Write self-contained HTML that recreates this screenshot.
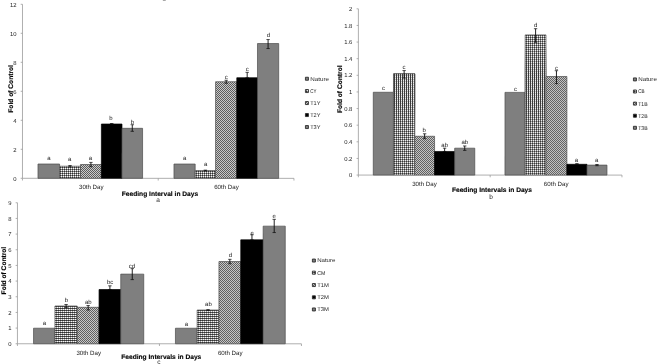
<!DOCTYPE html>
<html lang="en"><head><meta charset="utf-8"><title>Fold of Control charts</title>
<style>
html,body{margin:0;padding:0;background:#fff}
svg{display:block;font-family:"Liberation Sans",sans-serif;text-rendering:geometricPrecision}
</style></head><body>
<svg width="658" height="364" viewBox="0 0 658 364">
<defs>
<pattern id="grid" width="2" height="2" patternUnits="userSpaceOnUse"><rect width="2" height="2" fill="#2c2c2c"/><rect x="1" y="0" width="1" height="1" fill="#fff"/><rect x="0" y="0" width="1" height="1" fill="#848484"/><rect x="1" y="1" width="1" height="1" fill="#848484"/></pattern>
<pattern id="gridc" width="2" height="2" patternUnits="userSpaceOnUse"><rect width="2" height="2" fill="#2a2a2a"/><rect x="1" y="1" width="1" height="1" fill="#fff"/><rect x="0" y="1" width="1" height="1" fill="#9a9a9a"/><rect x="1" y="0" width="1" height="1" fill="#555"/></pattern>
<pattern id="gridw" width="2" height="2" patternUnits="userSpaceOnUse"><rect width="2" height="2" fill="#383838"/><rect x="1" y="0" width="1" height="1" fill="#f4f4f4"/><rect x="1" y="1" width="1" height="1" fill="#bcbcbc"/></pattern>
<linearGradient id="wg" gradientUnits="userSpaceOnUse" x1="0" y1="30" x2="0" y2="175"><stop offset="0" stop-color="#000"/><stop offset="0.1" stop-color="#000"/><stop offset="0.3" stop-color="#fff"/><stop offset="0.5" stop-color="#fff"/><stop offset="0.72" stop-color="#000"/><stop offset="1" stop-color="#000"/></linearGradient>
<mask id="wm" maskUnits="userSpaceOnUse" x="340" y="0" width="318" height="200"><rect x="340" y="0" width="318" height="200" fill="url(#wg)"/></mask>
<pattern id="chk" width="2" height="2" patternUnits="userSpaceOnUse"><rect width="2" height="2" fill="#d0d0d0"/><rect width="1" height="1" fill="#565656"/><rect x="1" y="1" width="1" height="1" fill="#565656"/></pattern>
</defs>
<rect width="658" height="364" fill="#fff"/>
<ellipse cx="164.3" cy="0.2" rx="1.6" ry="0.9" fill="#a8a8a8"/>
<g transform="rotate(0.01)">
<path d="M22.5 4.3V178.3H294" fill="none" stroke="#9a9a9a" stroke-width="0.8"/>
<path d="M20.7 178.3H22.5" stroke="#9a9a9a" stroke-width="0.8"/>
<text x="16.5" y="181.25" font-size="5.9" text-anchor="end" fill="#1c1c1c">0</text>
<path d="M20.7 149.3H22.5" stroke="#9a9a9a" stroke-width="0.8"/>
<text x="16.5" y="152.25" font-size="5.9" text-anchor="end" fill="#1c1c1c">2</text>
<path d="M20.7 120.3H22.5" stroke="#9a9a9a" stroke-width="0.8"/>
<text x="16.5" y="123.25" font-size="5.9" text-anchor="end" fill="#1c1c1c">4</text>
<path d="M20.7 91.3H22.5" stroke="#9a9a9a" stroke-width="0.8"/>
<text x="16.5" y="94.25" font-size="5.9" text-anchor="end" fill="#1c1c1c">6</text>
<path d="M20.7 62.3H22.5" stroke="#9a9a9a" stroke-width="0.8"/>
<text x="16.5" y="65.25" font-size="5.9" text-anchor="end" fill="#1c1c1c">8</text>
<path d="M20.7 33.3H22.5" stroke="#9a9a9a" stroke-width="0.8"/>
<text x="16.5" y="36.25" font-size="5.9" text-anchor="end" fill="#1c1c1c">10</text>
<path d="M20.7 4.3H22.5" stroke="#9a9a9a" stroke-width="0.8"/>
<text x="16.5" y="7.25" font-size="5.9" text-anchor="end" fill="#1c1c1c">12</text>
<path d="M22.5 178.3v2.2" stroke="#9a9a9a" stroke-width="0.8"/>
<path d="M158.25 178.3v2.2" stroke="#9a9a9a" stroke-width="0.8"/>
<path d="M294 178.3v2.2" stroke="#9a9a9a" stroke-width="0.8"/>
<rect x="38" y="164" width="21.6" height="14.3" fill="#7f7f7f" stroke="#4c4c4c" stroke-width="0.7"/>
<text x="49" y="159.6" font-size="6" text-anchor="middle" fill="#1c1c1c">a</text>
<rect x="59.6" y="166.2" width="20.9" height="12.1" fill="url(#grid)" stroke="#4c4c4c" stroke-width="0.7"/>
<path d="M70.05 165.5V166.9" stroke="#0a0a0a" stroke-width="0.9" fill="none"/><path d="M68.35 165.5h3.4M68.35 166.9h3.4" stroke="#0a0a0a" stroke-width="0.7" fill="none"/>
<text x="69.8" y="161.3" font-size="6" text-anchor="middle" fill="#1c1c1c">a</text>
<rect x="80.5" y="164.5" width="20.9" height="13.8" fill="url(#chk)" stroke="#4c4c4c" stroke-width="0.7"/>
<path d="M90.95 162.4V166.7" stroke="#0a0a0a" stroke-width="0.9" fill="none"/><path d="M89.25 162.4h3.4M89.25 166.7h3.4" stroke="#0a0a0a" stroke-width="0.7" fill="none"/>
<text x="90.5" y="160" font-size="6" text-anchor="middle" fill="#1c1c1c">a</text>
<rect x="101.4" y="124" width="20.6" height="54.3" fill="#000" stroke="#000" stroke-width="0.7"/>
<path d="M111.7 123.6V124" stroke="#0a0a0a" stroke-width="0.9" fill="none"/><path d="M110 123.6h3.4M110 124h3.4" stroke="#0a0a0a" stroke-width="0.7" fill="none"/>
<text x="111" y="119.7" font-size="6" text-anchor="middle" fill="#1c1c1c">b</text>
<rect x="122" y="128.3" width="20.6" height="50" fill="#7f7f7f" stroke="#4c4c4c" stroke-width="0.7"/>
<path d="M132.3 124.7V131.3" stroke="#0a0a0a" stroke-width="0.9" fill="none"/><path d="M130.6 124.7h3.4M130.6 131.3h3.4" stroke="#0a0a0a" stroke-width="0.7" fill="none"/>
<text x="132.5" y="124" font-size="6" text-anchor="middle" fill="#1c1c1c">b</text>
<rect x="174" y="164" width="21.2" height="14.3" fill="#7f7f7f" stroke="#4c4c4c" stroke-width="0.7"/>
<text x="184.8" y="159.6" font-size="6" text-anchor="middle" fill="#1c1c1c">a</text>
<rect x="195.2" y="170.5" width="20.4" height="7.8" fill="url(#grid)" stroke="#4c4c4c" stroke-width="0.7"/>
<path d="M205.4 170.1V170.9" stroke="#0a0a0a" stroke-width="0.9" fill="none"/><path d="M203.7 170.1h3.4M203.7 170.9h3.4" stroke="#0a0a0a" stroke-width="0.7" fill="none"/>
<text x="205.8" y="166" font-size="6" text-anchor="middle" fill="#1c1c1c">a</text>
<rect x="215.6" y="81.7" width="21.2" height="96.6" fill="url(#chk)" stroke="#4c4c4c" stroke-width="0.7"/>
<path d="M226.2 80.2V83.2" stroke="#0a0a0a" stroke-width="0.9" fill="none"/><path d="M224.5 80.2h3.4M224.5 83.2h3.4" stroke="#0a0a0a" stroke-width="0.7" fill="none"/>
<text x="226.3" y="79.3" font-size="6" text-anchor="middle" fill="#1c1c1c">c</text>
<rect x="236.8" y="77.7" width="20.8" height="100.6" fill="#000" stroke="#000" stroke-width="0.7"/>
<path d="M247.2 72.3V77.7" stroke="#0a0a0a" stroke-width="0.9" fill="none"/><path d="M245.5 72.3h3.4M245.5 77.7h3.4" stroke="#0a0a0a" stroke-width="0.7" fill="none"/>
<text x="247.3" y="70.8" font-size="6" text-anchor="middle" fill="#1c1c1c">c</text>
<rect x="257.5" y="43.5" width="21.2" height="134.8" fill="#7f7f7f" stroke="#4c4c4c" stroke-width="0.7"/>
<path d="M268.1 39.5V48.5" stroke="#0a0a0a" stroke-width="0.9" fill="none"/><path d="M266.4 39.5h3.4M266.4 48.5h3.4" stroke="#0a0a0a" stroke-width="0.7" fill="none"/>
<text x="268.4" y="37" font-size="6" text-anchor="middle" fill="#1c1c1c">d</text>
<rect x="305.45" y="77.2" width="3" height="3" fill="#7f7f7f" stroke="#2c2c2c" stroke-width="0.9"/>
<text x="310.2" y="80.65" font-size="5.6" textLength="18.8" lengthAdjust="spacingAndGlyphs" fill="#2a2a2a">Nature</text>
<rect x="305.45" y="89.5" width="3" height="3" fill="url(#grid)" stroke="#2c2c2c" stroke-width="0.9"/>
<text x="310.2" y="92.95" font-size="5.6" textLength="6.2" lengthAdjust="spacingAndGlyphs" fill="#2a2a2a">CY</text>
<rect x="305.45" y="101.5" width="3" height="3" fill="url(#chk)" stroke="#2c2c2c" stroke-width="0.9"/>
<text x="310.2" y="104.95" font-size="5.6" textLength="10.3" lengthAdjust="spacingAndGlyphs" fill="#2a2a2a">T1Y</text>
<rect x="305.45" y="113.5" width="3" height="3" fill="#000" stroke="#2c2c2c" stroke-width="0.9"/>
<text x="310.2" y="116.95" font-size="5.6" textLength="10.3" lengthAdjust="spacingAndGlyphs" fill="#2a2a2a">T2Y</text>
<rect x="305.45" y="125.5" width="3" height="3" fill="#7f7f7f" stroke="#2c2c2c" stroke-width="0.9"/>
<text x="310.2" y="128.95" font-size="5.6" textLength="10.3" lengthAdjust="spacingAndGlyphs" fill="#2a2a2a">T3Y</text>
<text transform="translate(13.4 88.9) rotate(-90)" font-size="6.65" font-weight="bold" text-anchor="middle" fill="#000" stroke="#000" stroke-width="0.15">Fold of Control</text>
<text x="91.3" y="189.2" font-size="6.15" text-anchor="middle" fill="#1c1c1c">30th Day</text>
<text x="226.5" y="189.2" font-size="6.15" text-anchor="middle" fill="#1c1c1c">60th Day</text>
<text x="160" y="196.1" font-size="6.65" font-weight="bold" text-anchor="middle" fill="#000" stroke="#000" stroke-width="0.12">Feeding Interval in Days</text>
<text x="158.2" y="201.7" font-size="6.5" text-anchor="middle" fill="#1c1c1c">a</text>
<path d="M358.4 8.75V175H622" fill="none" stroke="#9a9a9a" stroke-width="0.8"/>
<path d="M356.59999999999997 175H358.4" stroke="#9a9a9a" stroke-width="0.8"/>
<text x="352.4" y="177.2" font-size="5.9" text-anchor="end" fill="#1c1c1c">0</text>
<path d="M356.59999999999997 158.38H358.4" stroke="#9a9a9a" stroke-width="0.8"/>
<text x="352.4" y="160.57" font-size="5.9" text-anchor="end" fill="#1c1c1c">0.2</text>
<path d="M356.59999999999997 141.75H358.4" stroke="#9a9a9a" stroke-width="0.8"/>
<text x="352.4" y="143.95" font-size="5.9" text-anchor="end" fill="#1c1c1c">0.4</text>
<path d="M356.59999999999997 125.12H358.4" stroke="#9a9a9a" stroke-width="0.8"/>
<text x="352.4" y="127.33" font-size="5.9" text-anchor="end" fill="#1c1c1c">0.6</text>
<path d="M356.59999999999997 108.5H358.4" stroke="#9a9a9a" stroke-width="0.8"/>
<text x="352.4" y="110.7" font-size="5.9" text-anchor="end" fill="#1c1c1c">0.8</text>
<path d="M356.59999999999997 91.88H358.4" stroke="#9a9a9a" stroke-width="0.8"/>
<text x="352.4" y="94.08" font-size="5.9" text-anchor="end" fill="#1c1c1c">1</text>
<path d="M356.59999999999997 75.25H358.4" stroke="#9a9a9a" stroke-width="0.8"/>
<text x="352.4" y="77.45" font-size="5.9" text-anchor="end" fill="#1c1c1c">1.2</text>
<path d="M356.59999999999997 58.62H358.4" stroke="#9a9a9a" stroke-width="0.8"/>
<text x="352.4" y="60.82" font-size="5.9" text-anchor="end" fill="#1c1c1c">1.4</text>
<path d="M356.59999999999997 42H358.4" stroke="#9a9a9a" stroke-width="0.8"/>
<text x="352.4" y="44.2" font-size="5.9" text-anchor="end" fill="#1c1c1c">1.6</text>
<path d="M356.59999999999997 25.38H358.4" stroke="#9a9a9a" stroke-width="0.8"/>
<text x="352.4" y="27.57" font-size="5.9" text-anchor="end" fill="#1c1c1c">1.8</text>
<path d="M356.59999999999997 8.75H358.4" stroke="#9a9a9a" stroke-width="0.8"/>
<text x="352.4" y="10.95" font-size="5.9" text-anchor="end" fill="#1c1c1c">2</text>
<path d="M358.4 175v2.2" stroke="#9a9a9a" stroke-width="0.8"/>
<path d="M490.2 175v2.2" stroke="#9a9a9a" stroke-width="0.8"/>
<path d="M622 175v2.2" stroke="#9a9a9a" stroke-width="0.8"/>
<rect x="373.3" y="92.2" width="20.2" height="82.8" fill="#7f7f7f" stroke="#4c4c4c" stroke-width="0.7"/>
<text x="383.4" y="89.6" font-size="6" text-anchor="middle" fill="#1c1c1c">c</text>
<rect x="393.5" y="73.8" width="21.3" height="101.2" fill="url(#grid)" stroke="#4c4c4c" stroke-width="0.7"/>
<rect x="393.5" y="73.8" width="21.3" height="101.2" fill="url(#gridw)" mask="url(#wm)" stroke="#4c4c4c" stroke-width="0.7"/>
<path d="M404.15 70.5V78" stroke="#0a0a0a" stroke-width="0.9" fill="none"/><path d="M402.45 70.5h3.4M402.45 78h3.4" stroke="#0a0a0a" stroke-width="0.7" fill="none"/>
<text x="404" y="69.3" font-size="6" text-anchor="middle" fill="#1c1c1c">c</text>
<rect x="414.7" y="136.2" width="19.9" height="38.8" fill="url(#chk)" stroke="#4c4c4c" stroke-width="0.7"/>
<path d="M424.65 133.7V138.6" stroke="#0a0a0a" stroke-width="0.9" fill="none"/><path d="M422.95 133.7h3.4M422.95 138.6h3.4" stroke="#0a0a0a" stroke-width="0.7" fill="none"/>
<text x="424.1" y="131.9" font-size="6" text-anchor="middle" fill="#1c1c1c">b</text>
<rect x="434.6" y="151.4" width="20.1" height="23.6" fill="#000" stroke="#000" stroke-width="0.7"/>
<path d="M444.65 148.1V151.4" stroke="#0a0a0a" stroke-width="0.9" fill="none"/><path d="M442.95 148.1h3.4M442.95 151.4h3.4" stroke="#0a0a0a" stroke-width="0.7" fill="none"/>
<text x="444.7" y="147.2" font-size="6" text-anchor="middle" fill="#1c1c1c">ab</text>
<rect x="454.7" y="148.1" width="20.1" height="26.9" fill="#7f7f7f" stroke="#4c4c4c" stroke-width="0.7"/>
<path d="M464.75 145.9V150.3" stroke="#0a0a0a" stroke-width="0.9" fill="none"/><path d="M463.05 145.9h3.4M463.05 150.3h3.4" stroke="#0a0a0a" stroke-width="0.7" fill="none"/>
<text x="464.8" y="144" font-size="6" text-anchor="middle" fill="#1c1c1c">ab</text>
<rect x="505" y="92.3" width="20.2" height="82.7" fill="#7f7f7f" stroke="#4c4c4c" stroke-width="0.7"/>
<text x="515.6" y="90.5" font-size="6" text-anchor="middle" fill="#1c1c1c">c</text>
<rect x="525.2" y="34.8" width="20.8" height="140.2" fill="url(#grid)" stroke="#4c4c4c" stroke-width="0.7"/>
<rect x="525.2" y="34.8" width="20.8" height="140.2" fill="url(#gridw)" mask="url(#wm)" stroke="#4c4c4c" stroke-width="0.7"/>
<path d="M535.6 28.6V42.2" stroke="#0a0a0a" stroke-width="0.9" fill="none"/><path d="M533.9 28.6h3.4M533.9 42.2h3.4" stroke="#0a0a0a" stroke-width="0.7" fill="none"/>
<text x="535.8" y="26.8" font-size="6" text-anchor="middle" fill="#1c1c1c">d</text>
<rect x="546" y="76.4" width="20.9" height="98.6" fill="url(#chk)" stroke="#4c4c4c" stroke-width="0.7"/>
<path d="M556.45 70.6V83.5" stroke="#0a0a0a" stroke-width="0.9" fill="none"/><path d="M554.75 70.6h3.4M554.75 83.5h3.4" stroke="#0a0a0a" stroke-width="0.7" fill="none"/>
<text x="556.6" y="70.3" font-size="6" text-anchor="middle" fill="#1c1c1c">c</text>
<rect x="566.9" y="164.2" width="20.1" height="10.8" fill="#000" stroke="#000" stroke-width="0.7"/>
<path d="M576.95 163.6V164.2" stroke="#0a0a0a" stroke-width="0.9" fill="none"/><path d="M575.25 163.6h3.4M575.25 164.2h3.4" stroke="#0a0a0a" stroke-width="0.7" fill="none"/>
<text x="576.5" y="161.6" font-size="6" text-anchor="middle" fill="#1c1c1c">a</text>
<rect x="587" y="165" width="20" height="10" fill="#7f7f7f" stroke="#4c4c4c" stroke-width="0.7"/>
<path d="M597 164.4V165.6" stroke="#0a0a0a" stroke-width="0.9" fill="none"/><path d="M595.3 164.4h3.4M595.3 165.6h3.4" stroke="#0a0a0a" stroke-width="0.7" fill="none"/>
<text x="596.8" y="162" font-size="6" text-anchor="middle" fill="#1c1c1c">a</text>
<rect x="633.45" y="77.8" width="3" height="3" fill="#7f7f7f" stroke="#2c2c2c" stroke-width="0.9"/>
<text x="638.2" y="81.25" font-size="5.6" textLength="18.7" lengthAdjust="spacingAndGlyphs" fill="#2a2a2a">Nature</text>
<rect x="633.45" y="89.9" width="3" height="3" fill="url(#grid)" stroke="#2c2c2c" stroke-width="0.9"/>
<text x="638.2" y="93.35" font-size="5.6" textLength="6.4" lengthAdjust="spacingAndGlyphs" fill="#2a2a2a">CB</text>
<rect x="633.45" y="102" width="3" height="3" fill="url(#chk)" stroke="#2c2c2c" stroke-width="0.9"/>
<text x="638.2" y="105.45" font-size="5.6" textLength="9.4" lengthAdjust="spacingAndGlyphs" fill="#2a2a2a">T1B</text>
<rect x="633.45" y="114.1" width="3" height="3" fill="#000" stroke="#2c2c2c" stroke-width="0.9"/>
<text x="638.2" y="117.55" font-size="5.6" textLength="9.4" lengthAdjust="spacingAndGlyphs" fill="#2a2a2a">T2B</text>
<rect x="633.45" y="126.2" width="3" height="3" fill="#7f7f7f" stroke="#2c2c2c" stroke-width="0.9"/>
<text x="638.2" y="129.65" font-size="5.6" textLength="9.4" lengthAdjust="spacingAndGlyphs" fill="#2a2a2a">T3B</text>
<text transform="translate(342.2 89.2) rotate(-90)" font-size="6.65" font-weight="bold" text-anchor="middle" fill="#000" stroke="#000" stroke-width="0.15">Fold of Control</text>
<text x="424.5" y="185.9" font-size="6.15" text-anchor="middle" fill="#1c1c1c">30th Day</text>
<text x="556.2" y="185.9" font-size="6.15" text-anchor="middle" fill="#1c1c1c">60th Day</text>
<text x="492" y="191.8" font-size="6.65" font-weight="bold" text-anchor="middle" fill="#000" stroke="#000" stroke-width="0.12">Feeding Intervals in Days</text>
<text x="491" y="198.6" font-size="6.5" text-anchor="middle" fill="#1c1c1c">b</text>
<path d="M17.5 202.75V343.75H301.5" fill="none" stroke="#9a9a9a" stroke-width="0.8"/>
<path d="M15.7 343.75H17.5" stroke="#9a9a9a" stroke-width="0.8"/>
<text x="11.5" y="345.95" font-size="5.9" text-anchor="end" fill="#1c1c1c">0</text>
<path d="M15.7 328.08H17.5" stroke="#9a9a9a" stroke-width="0.8"/>
<text x="11.5" y="330.28" font-size="5.9" text-anchor="end" fill="#1c1c1c">1</text>
<path d="M15.7 312.42H17.5" stroke="#9a9a9a" stroke-width="0.8"/>
<text x="11.5" y="314.62" font-size="5.9" text-anchor="end" fill="#1c1c1c">2</text>
<path d="M15.7 296.75H17.5" stroke="#9a9a9a" stroke-width="0.8"/>
<text x="11.5" y="298.95" font-size="5.9" text-anchor="end" fill="#1c1c1c">3</text>
<path d="M15.7 281.08H17.5" stroke="#9a9a9a" stroke-width="0.8"/>
<text x="11.5" y="283.28" font-size="5.9" text-anchor="end" fill="#1c1c1c">4</text>
<path d="M15.7 265.42H17.5" stroke="#9a9a9a" stroke-width="0.8"/>
<text x="11.5" y="267.62" font-size="5.9" text-anchor="end" fill="#1c1c1c">5</text>
<path d="M15.7 249.75H17.5" stroke="#9a9a9a" stroke-width="0.8"/>
<text x="11.5" y="251.95" font-size="5.9" text-anchor="end" fill="#1c1c1c">6</text>
<path d="M15.7 234.08H17.5" stroke="#9a9a9a" stroke-width="0.8"/>
<text x="11.5" y="236.28" font-size="5.9" text-anchor="end" fill="#1c1c1c">7</text>
<path d="M15.7 218.42H17.5" stroke="#9a9a9a" stroke-width="0.8"/>
<text x="11.5" y="220.62" font-size="5.9" text-anchor="end" fill="#1c1c1c">8</text>
<path d="M15.7 202.75H17.5" stroke="#9a9a9a" stroke-width="0.8"/>
<text x="11.5" y="204.95" font-size="5.9" text-anchor="end" fill="#1c1c1c">9</text>
<path d="M17.5 343.75v2.2" stroke="#9a9a9a" stroke-width="0.8"/>
<path d="M159.5 343.75v2.2" stroke="#9a9a9a" stroke-width="0.8"/>
<path d="M301.5 343.75v2.2" stroke="#9a9a9a" stroke-width="0.8"/>
<rect x="33.6" y="328.2" width="21.4" height="15.55" fill="#7f7f7f" stroke="#4c4c4c" stroke-width="0.7"/>
<text x="44.5" y="325.3" font-size="6" text-anchor="middle" fill="#1c1c1c">a</text>
<rect x="55" y="306" width="22.3" height="37.75" fill="url(#gridc)" stroke="#4c4c4c" stroke-width="0.7"/>
<path d="M66.15 304.5V307.5" stroke="#0a0a0a" stroke-width="0.9" fill="none"/><path d="M64.45 304.5h3.4M64.45 307.5h3.4" stroke="#0a0a0a" stroke-width="0.7" fill="none"/>
<text x="66.5" y="302.3" font-size="6" text-anchor="middle" fill="#1c1c1c">b</text>
<rect x="77.3" y="307.3" width="21.8" height="36.45" fill="url(#chk)" stroke="#4c4c4c" stroke-width="0.7"/>
<path d="M88.2 305.5V310" stroke="#0a0a0a" stroke-width="0.9" fill="none"/><path d="M86.5 305.5h3.4M86.5 310h3.4" stroke="#0a0a0a" stroke-width="0.7" fill="none"/>
<text x="88.4" y="303.8" font-size="6" text-anchor="middle" fill="#1c1c1c">ab</text>
<rect x="99.1" y="289.5" width="21.7" height="54.25" fill="#000" stroke="#000" stroke-width="0.7"/>
<path d="M109.95 285.8V289.5" stroke="#0a0a0a" stroke-width="0.9" fill="none"/><path d="M108.25 285.8h3.4M108.25 289.5h3.4" stroke="#0a0a0a" stroke-width="0.7" fill="none"/>
<text x="110.2" y="284" font-size="6" text-anchor="middle" fill="#1c1c1c">bc</text>
<rect x="120.8" y="274.1" width="23" height="69.65" fill="#7f7f7f" stroke="#4c4c4c" stroke-width="0.7"/>
<path d="M132.3 268.6V279.6" stroke="#0a0a0a" stroke-width="0.9" fill="none"/><path d="M130.6 268.6h3.4M130.6 279.6h3.4" stroke="#0a0a0a" stroke-width="0.7" fill="none"/>
<text x="132" y="268.2" font-size="6" text-anchor="middle" fill="#1c1c1c">cd</text>
<rect x="175.5" y="328.2" width="21.7" height="15.55" fill="#7f7f7f" stroke="#4c4c4c" stroke-width="0.7"/>
<text x="186.5" y="325.9" font-size="6" text-anchor="middle" fill="#1c1c1c">a</text>
<rect x="197.2" y="310" width="21.8" height="33.75" fill="url(#gridc)" stroke="#4c4c4c" stroke-width="0.7"/>
<path d="M208.1 309.6V310.4" stroke="#0a0a0a" stroke-width="0.9" fill="none"/><path d="M206.4 309.6h3.4M206.4 310.4h3.4" stroke="#0a0a0a" stroke-width="0.7" fill="none"/>
<text x="208.5" y="306.2" font-size="6" text-anchor="middle" fill="#1c1c1c">ab</text>
<rect x="219" y="261.5" width="21.8" height="82.25" fill="url(#chk)" stroke="#4c4c4c" stroke-width="0.7"/>
<path d="M229.9 259.3V263.7" stroke="#0a0a0a" stroke-width="0.9" fill="none"/><path d="M228.2 259.3h3.4M228.2 263.7h3.4" stroke="#0a0a0a" stroke-width="0.7" fill="none"/>
<text x="230.4" y="257.1" font-size="6" text-anchor="middle" fill="#1c1c1c">d</text>
<rect x="240.8" y="239.8" width="22.4" height="103.95" fill="#000" stroke="#000" stroke-width="0.7"/>
<path d="M252 234.7V239.8" stroke="#0a0a0a" stroke-width="0.9" fill="none"/><path d="M250.3 234.7h3.4M250.3 239.8h3.4" stroke="#0a0a0a" stroke-width="0.7" fill="none"/>
<text x="252.2" y="234.7" font-size="6" text-anchor="middle" fill="#1c1c1c">e</text>
<rect x="263.2" y="226.1" width="22.1" height="117.65" fill="#7f7f7f" stroke="#4c4c4c" stroke-width="0.7"/>
<path d="M274.25 219.3V232.5" stroke="#0a0a0a" stroke-width="0.9" fill="none"/><path d="M272.55 219.3h3.4M272.55 232.5h3.4" stroke="#0a0a0a" stroke-width="0.7" fill="none"/>
<text x="274.2" y="218.2" font-size="6" text-anchor="middle" fill="#1c1c1c">e</text>
<rect x="312.45" y="259" width="3" height="3" fill="#7f7f7f" stroke="#2c2c2c" stroke-width="0.9"/>
<text x="317.2" y="262.45" font-size="5.6" textLength="18.3" lengthAdjust="spacingAndGlyphs" fill="#2a2a2a">Nature</text>
<rect x="312.45" y="271.1" width="3" height="3" fill="url(#gridc)" stroke="#2c2c2c" stroke-width="0.9"/>
<text x="317.2" y="274.55" font-size="5.6" textLength="8.1" lengthAdjust="spacingAndGlyphs" fill="#2a2a2a">CM</text>
<rect x="312.45" y="283.5" width="3" height="3" fill="url(#chk)" stroke="#2c2c2c" stroke-width="0.9"/>
<text x="317.2" y="286.95" font-size="5.6" textLength="11.7" lengthAdjust="spacingAndGlyphs" fill="#2a2a2a">T1M</text>
<rect x="312.45" y="295.8" width="3" height="3" fill="#000" stroke="#2c2c2c" stroke-width="0.9"/>
<text x="317.2" y="299.25" font-size="5.6" textLength="11.7" lengthAdjust="spacingAndGlyphs" fill="#2a2a2a">T2M</text>
<rect x="312.45" y="307.9" width="3" height="3" fill="#7f7f7f" stroke="#2c2c2c" stroke-width="0.9"/>
<text x="317.2" y="311.35" font-size="5.6" textLength="11.7" lengthAdjust="spacingAndGlyphs" fill="#2a2a2a">T3M</text>
<text transform="translate(5.9 270.6) rotate(-90)" font-size="6.65" font-weight="bold" text-anchor="middle" fill="#000" stroke="#000" stroke-width="0.15">Fold of Control</text>
<text x="88.8" y="355.2" font-size="6.15" text-anchor="middle" fill="#1c1c1c">30th Day</text>
<text x="230.3" y="355.2" font-size="6.15" text-anchor="middle" fill="#1c1c1c">60th Day</text>
<text x="161.3" y="358.9" font-size="6.65" font-weight="bold" text-anchor="middle" fill="#000" stroke="#000" stroke-width="0.12">Feeding Intervals in Days</text>
<text x="159" y="364.3" font-size="6.5" text-anchor="middle" fill="#1c1c1c">c</text>
</g>
</svg>
</body></html>
